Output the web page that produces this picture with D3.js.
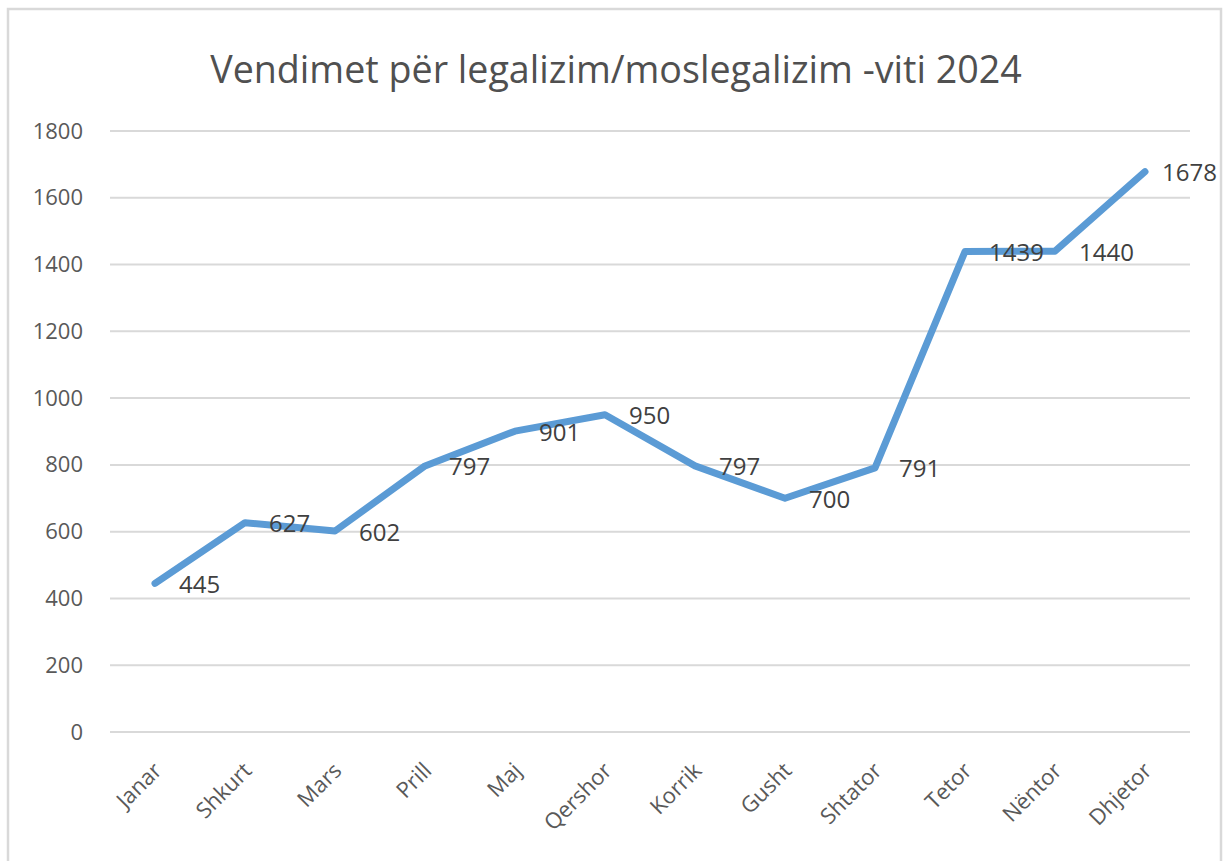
<!DOCTYPE html>
<html>
<head>
<meta charset="utf-8">
<script src="https://cdn.jsdelivr.net/npm/d3@7"></script>
<style>
  body { margin: 0; background: #fff; }
  svg text { font-family: "Open Sans", "Noto Sans", sans-serif; fill: #595959; }
</style>
</head>
<body>
<div id="chart"></div>
<script>
var title = "Vendimet për legalizim/moslegalizim -viti 2024";
var months = ["Janar", "Shkurt", "Mars", "Prill", "Maj", "Qershor", "Korrik", "Gusht", "Shtator", "Tetor", "Nëntor", "Dhjetor"];
var values = [445, 627, 602, 797, 901, 950, 797, 700, 791, 1439, 1440, 1678];
var yTicks = [0, 200, 400, 600, 800, 1000, 1200, 1400, 1600, 1800];

var W = 1223, H = 861;
var margin = {top: 131, right: 33, bottom: 129, left: 110},
    width = W - margin.left - margin.right,
    height = H - margin.top - margin.bottom;

var root = d3.select("#chart")
    .append("svg")
    .attr("width", W)
    .attr("height", H);

// chart frame
root.append("rect")
    .attr("x", 8).attr("y", 9)
    .attr("width", 1213).attr("height", 880)
    .attr("fill", "none")
    .attr("stroke", "#d9d9d9")
    .attr("stroke-width", 2.5);

// title
var t = root.append("text")
    .attr("x", 616).attr("y", 83)
    .attr("text-anchor", "middle")
    .style("font-size", "34px")
    .style("fill", "#505050")
    .text(title);
var tw = t.node().getComputedTextLength();
t.style("font-size", (34 * 812 / tw) + "px");

var svg = root.append("g")
    .attr("transform", "translate(" + margin.left + "," + margin.top + ")");

var x = d3.scaleBand()
    .domain(months)
    .range([0, width]);

var y = d3.scaleLinear()
    .domain([0, 1800])
    .range([height, 0]);

// gridlines
svg.append("g")
    .selectAll("line")
    .data(yTicks)
    .enter()
    .append("line")
    .attr("x1", 0).attr("x2", width)
    .attr("y1", function(d) { return y(d); })
    .attr("y2", function(d) { return y(d); })
    .attr("stroke", "#d9d9d9")
    .attr("stroke-width", 2);

// Y axis labels
var yAxis = svg.append("g")
    .call(d3.axisLeft(y).tickValues(yTicks).tickFormat(d3.format("d")).tickSize(0).tickPadding(27));
yAxis.select(".domain").remove();
yAxis.selectAll("text")
    .style("font-size", "22px")
    .style("fill", "#595959");

// X axis labels
var xAxis = svg.append("g")
    .attr("transform", "translate(0," + height + ")")
    .call(d3.axisBottom(x).tickSize(0).tickPadding(0));
xAxis.select(".domain").remove();
xAxis.selectAll("text")
    .style("font-size", "22px")
    .style("fill", "#595959")
    .attr("dy", null)
    .attr("y", 0)
    .attr("transform", "translate(8,40)rotate(-45)")
    .style("text-anchor", "end");

// line
var line = d3.line()
    .x(function(d, i) { return x(months[i]) + x.bandwidth() / 2; })
    .y(function(d) { return y(d); });

svg.append("path")
    .datum(values)
    .attr("d", line)
    .attr("fill", "none")
    .attr("stroke", "#5b9bd5")
    .attr("stroke-width", 7)
    .attr("stroke-linecap", "round")
    .attr("stroke-linejoin", "round");

// data labels (kept inside the chart frame, like Excel does)
var maxRight = 1217 - margin.left;
svg.selectAll(".lbl")
    .data(values)
    .enter()
    .append("text")
    .attr("class", "lbl")
    .attr("x", function(d, i) { return x(months[i]) + x.bandwidth() / 2 + 24; })
    .attr("y", function(d) { return y(d); })
    .attr("dy", "0.4em")
    .style("font-size", "24px")
    .style("fill", "#404040")
    .text(function(d) { return d; })
    .each(function() {
        var el = d3.select(this);
        var w = this.getComputedTextLength();
        var lx = +el.attr("x");
        if (lx + w > maxRight) el.attr("x", maxRight - w);
    });
</script>
</body>
</html>
